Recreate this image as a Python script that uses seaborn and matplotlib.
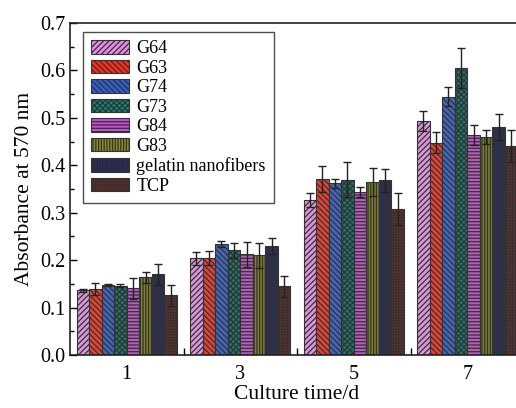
import matplotlib
matplotlib.use("Agg")
import matplotlib.pyplot as plt
import seaborn as sns
import pandas as pd
import numpy as np
from matplotlib.patches import Patch
from matplotlib.ticker import MultipleLocator, FixedLocator

days = ["1", "3", "5", "7"]
groups = ["G64", "G63", "G74", "G73", "G84", "G83", "gelatin nanofibers", "TCP"]

G64 = [0.136, 0.204, 0.326, 0.493]
G63 = [0.139, 0.205, 0.371, 0.448]
G74 = [0.148, 0.234, 0.362, 0.545]
G73 = [0.146, 0.221, 0.370, 0.605]
G84 = [0.141, 0.212, 0.344, 0.464]
G83 = [0.164, 0.210, 0.365, 0.460]
GEL = [0.170, 0.230, 0.368, 0.481]
TCP = [0.126, 0.145, 0.308, 0.441]

G64_err = [0.003, 0.014, 0.015, 0.021]
G63_err = [0.012, 0.015, 0.028, 0.022]
G74_err = [0.002, 0.006, 0.010, 0.020]
G73_err = [0.003, 0.016, 0.037, 0.043]
G84_err = [0.022, 0.026, 0.011, 0.021]
G83_err = [0.012, 0.027, 0.030, 0.015]
GEL_err = [0.022, 0.016, 0.024, 0.027]
TCP_err = [0.022, 0.022, 0.033, 0.034]

values = [G64, G63, G74, G73, G84, G83, GEL, TCP]
errors = [G64_err, G63_err, G74_err, G73_err, G84_err, G83_err, GEL_err, TCP_err]

colors = ["#E88AE6", "#FF2A1A", "#2F5DD0", "#0E8578", "#C44CCF", "#8C8C22", "#25255E", "#8E1B1B"]
hatches = ["//////", "\\\\\\\\\\\\", "\\\\\\\\\\\\", "xxxxxx", "-----", "||||||", "||||||", "++++++"]

rows = []
for g, vals in zip(groups, values):
    for d, v in zip(days, vals):
        rows.append({"day": d, "group": g, "value": v})
df = pd.DataFrame(rows)

plt.rcParams["font.family"] = ["Liberation Serif", "DejaVu Serif"]
plt.rcParams["hatch.linewidth"] = 0.9
plt.rcParams["hatch.color"] = "#222222"

fig = plt.figure(figsize=(5.16, 4.08), dpi=100)
ax = fig.add_axes([70 / 516, 53 / 408, 454 / 516, 332 / 408])

sns.barplot(data=df, x="day", y="value", hue="group", order=days, hue_order=groups,
            palette=dict(zip(groups, colors)), width=0.885, gap=0, errorbar=None,
            edgecolor="#333333", linewidth=0.8, ax=ax, legend=False)

for cont, h, errs in zip(ax.containers, hatches, errors):
    xs, ys = [], []
    for p in cont.patches:
        p.set_hatch(h)
        xs.append(p.get_x() + p.get_width() / 2)
        ys.append(p.get_height())
    ax.errorbar(xs, ys, yerr=errs, fmt="none", ecolor="#222222", elinewidth=1.0,
                capsize=3.0, capthick=1.0, zorder=5)

ax.set_ylim(0, 0.7)
ax.set_xlim(-0.5, 3.5)
ax.yaxis.set_major_locator(MultipleLocator(0.1))
ax.yaxis.set_minor_locator(MultipleLocator(0.05))
ax.set_yticklabels([f"{t:.1f}" for t in ax.get_yticks()])
ax.xaxis.set_minor_locator(FixedLocator([0.5, 1.5, 2.5]))
ax.tick_params(axis="y", which="major", direction="in", length=5, width=1, labelsize=14.5, pad=3)
ax.tick_params(axis="y", which="minor", direction="in", length=3, width=1)
ax.tick_params(axis="x", which="major", direction="in", length=0, labelsize=14.5, pad=7)
ax.tick_params(axis="x", which="minor", direction="in", length=5, width=1)
for s in ax.spines.values():
    s.set_linewidth(1.2)
    s.set_color("#222222")

ax.set_xlabel("Culture time/d", fontsize=15.5, labelpad=1)
ax.set_ylabel("Absorbance at 570 nm", fontsize=15.5, labelpad=5)

handles = [Patch(facecolor=c, edgecolor="#333333", hatch=h, linewidth=0.8)
           for c, h in zip(colors, hatches)]
leg = ax.legend(handles, groups, loc="upper left", bbox_to_anchor=(0.025, 0.978),
                fontsize=13, frameon=True, fancybox=False, edgecolor="#222222",
                handlelength=2.1, handleheight=0.75, labelspacing=0.14,
                handletextpad=0.4, borderpad=0.45, borderaxespad=0.1)
leg.get_frame().set_linewidth(1.0)

fig.savefig("out.png", dpi=100)
